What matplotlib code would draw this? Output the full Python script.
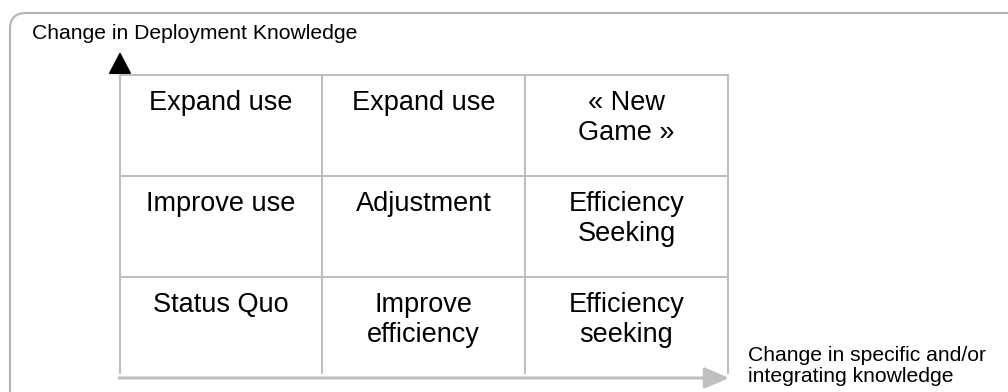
import matplotlib.pyplot as plt
from matplotlib.patches import FancyBboxPatch

plt.rcParams['font.family'] = ['Liberation Sans', 'DejaVu Sans']

# matrix contents, top row first
rows = [
    ["Expand use", "Expand use", "\u00ab New\nGame \u00bb"],
    ["Improve use", "Adjustment", "Efficiency\nSeeking"],
    ["Status Quo", "Improve\nefficiency", "Efficiency\nseeking"],
]
y_axis_label = "Change in Deployment Knowledge"
x_axis_label = "Change in specific and/or\nintegrating knowledge"

# layout in pixels
W, H = 1008, 392
x_edges = [120, 322, 525, 728]
y_edges = [75, 176, 277, 378]
grey = '#bfbfbf'

fig = plt.figure(figsize=(W / 100, H / 100), dpi=100)
ax = fig.add_axes([0, 0, 1, 1])
ax.set_xlim(0, W)
ax.set_ylim(H, 0)
ax.axis('off')

# outer rounded frame (runs off right and bottom)
frame = FancyBboxPatch((10, 13), 1030, 420, boxstyle="round,pad=0,rounding_size=16",
                       fc='none', ec='#b3b3b3', lw=1.5)
ax.add_patch(frame)

# vertical arrow (black head)
ax.annotate('', xy=(x_edges[0], 52), xytext=(x_edges[0], y_edges[0] + 20),
            arrowprops=dict(arrowstyle='-|>,head_length=1.37,head_width=0.72',
                            mutation_scale=10, color='black', lw=1.4,
                            shrinkA=0, shrinkB=0))

# grid lines
for y in y_edges[:-1]:
    ax.plot([x_edges[0], x_edges[-1]], [y, y], color=grey, lw=1.5, zorder=3)
for x in x_edges:
    ax.plot([x, x], [y_edges[0], y_edges[-1] - 5], color=grey, lw=1.5, zorder=3)

# horizontal arrow (grey)
ax.annotate('', xy=(x_edges[-1] + 1, y_edges[-1]), xytext=(x_edges[0] - 1, y_edges[-1]),
            arrowprops=dict(arrowstyle='-|>,head_length=1.5,head_width=0.65',
                            mutation_scale=10, color=grey, lw=2.2,
                            shrinkA=0, shrinkB=0), zorder=4)

# cell texts
for r, row in enumerate(rows):
    for c, txt in enumerate(row):
        cx = (x_edges[c] + x_edges[c + 1]) / 2
        ax.text(cx, y_edges[r] + 15, txt, ha='center', va='top',
                fontsize=19.5, linespacing=1.2, color='black')

ax.text(32, 33, y_axis_label, ha='left', va='center', fontsize=15.2)
ax.text(748, 366, x_axis_label, ha='left', va='center', fontsize=15.2, linespacing=1.08)

fig.savefig('out.png', dpi=100)
